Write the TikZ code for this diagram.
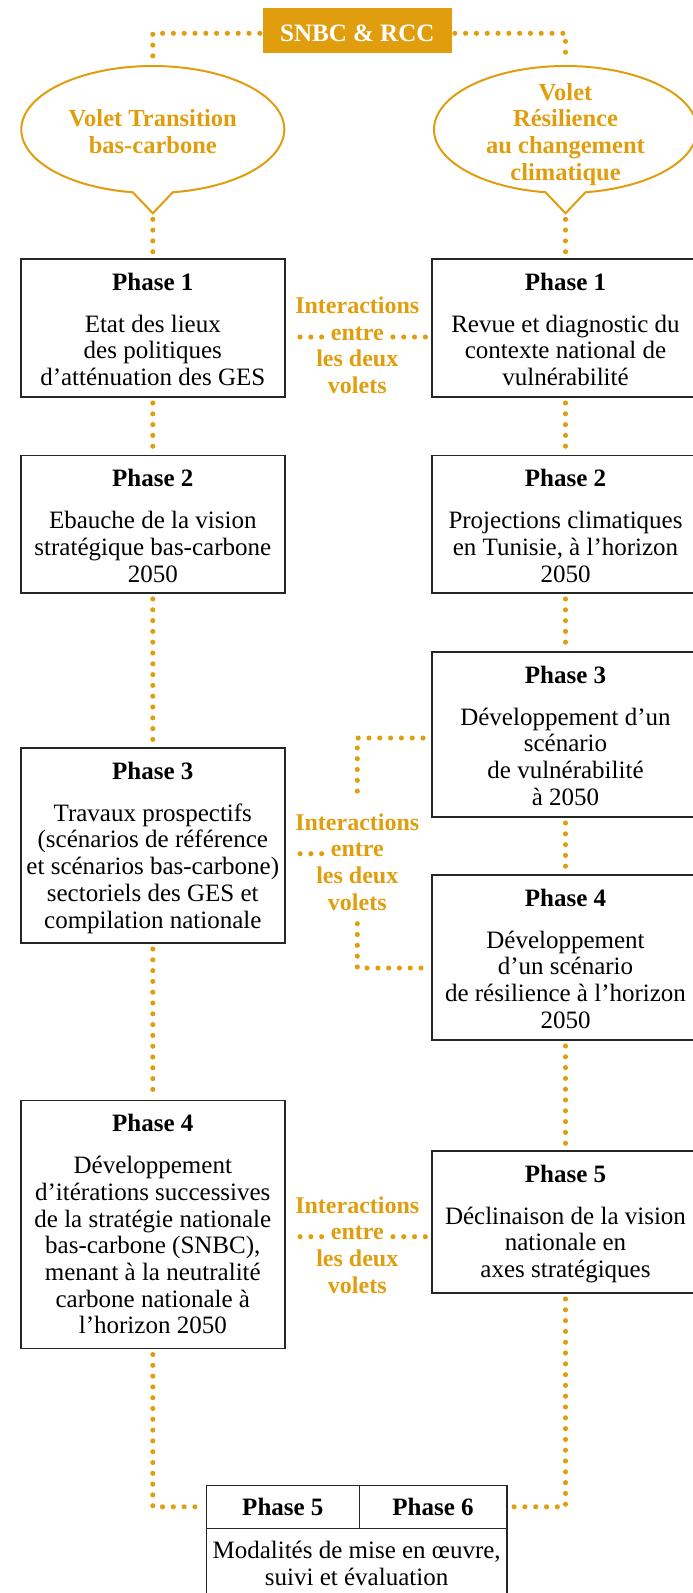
\documentclass[tikz,border=0pt]{standalone}
\usepackage{fontspec}
\setmainfont{Liberation Serif}
\definecolor{org}{RGB}{224,158,14}
\tikzset{
  dots/.style={draw=org, line width=5.1pt, line cap=round, dash pattern=on 0pt off 10.8pt, shorten <=6pt, shorten >=6pt},
  box/.style={draw=black!85, line width=1.5pt, inner sep=0pt, outer sep=0pt},
  boxtext/.style={inner sep=0pt, align=center, font=\fontsize{25}{26.7}\selectfont},
  inter/.style={inner sep=0pt, align=center, text=org, font=\fontsize{24}{26.7}\selectfont\bfseries},
  volet/.style={draw=org, line width=2pt, line join=miter},
  cell/.style={box, minimum height=43pt, font=\fontsize{25}{26.7}\selectfont\bfseries, text height=17pt, text depth=0pt},
}
% name, cx, cy, width, height, text
\newcommand\phbox[6]{%
  \node[box, minimum width=#4pt, minimum height=#5pt] (#1) at (#2,#3) {};
  \node[boxtext, anchor=north] (#1t) at ([yshift=-12.3pt]#1.north) {#6};
}
\begin{document}
\begin{tikzpicture}[x=1pt,y=-1pt]
\useasboundingbox (0,0) rectangle (693,1593);

% top box
\node[fill=org, text=white, font=\fontsize{25}{30}\selectfont\bfseries, minimum width=188.6pt, minimum height=45.3pt, inner sep=0pt, text height=20.6pt, text depth=0pt] (top) at (357.3,30.7) {SNBC \& RCC};

% speech-bubble ellipses
\draw[volet] (132.8,192.26) arc[start angle=98.75, end angle=441.25, x radius=131.5, y radius=63.5] -- (152.8,213.3) -- cycle;
\draw[volet] (545.5,192.26) arc[start angle=98.75, end angle=441.25, x radius=131.5, y radius=63.5] -- (565.5,213.3) -- cycle;
\coordinate (e1top) at (152.8,66);
\coordinate (e2top) at (565.5,66);
\coordinate (t1) at (152.8,213.3);
\coordinate (t2) at (565.5,213.3);
\node[inter, anchor=north, font=\fontsize{24.5}{26.7}\selectfont\bfseries] (v1) at (152.8,108) {\strut Volet Transition\\bas-carbone};
\node[inter, anchor=north, font=\fontsize{24.5}{26.7}\selectfont\bfseries] (v2) at (565.5,81.3) {\strut Volet\\Résilience\\au changement\\climatique};

% left column
\phbox{l1}{152.8}{328}{264}{138}{\strut\textbf{Phase 1}\\[15.3pt]Etat des lieux\\des politiques\\d’atténuation des GES}
\phbox{l2}{152.8}{524.25}{264}{137.5}{\strut\textbf{Phase 2}\\[15.3pt]Ebauche de la vision\\stratégique bas-carbone\\2050}
\phbox{l3}{152.8}{845.5}{264}{195}{\strut\textbf{Phase 3}\\[15.3pt]Travaux prospectifs\\(scénarios de référence\\et scénarios bas-carbone)\\sectoriels des GES et\\compilation nationale}
\phbox{l4}{152.8}{1224.5}{264}{248}{\strut\textbf{Phase 4}\\[15.3pt]Développement\\d’itérations successives\\de la stratégie nationale\\bas-carbone (SNBC),\\menant à la neutralité\\carbone nationale à\\l’horizon 2050}

% right column
\phbox{r1}{565.5}{328}{267}{138}{\strut\textbf{Phase 1}\\[15.3pt]Revue et diagnostic du\\contexte national de\\vulnérabilité}
\phbox{r2}{565.5}{524.25}{267}{137.5}{\strut\textbf{Phase 2}\\[15.3pt]Projections climatiques\\en Tunisie, à l’horizon\\2050}
\phbox{r3}{565.5}{734.5}{267}{165}{\strut\textbf{Phase 3}\\[15.3pt]Développement d’un\\scénario\\de vulnérabilité\\à 2050}
\phbox{r4}{565.5}{957.5}{267}{165}{\strut\textbf{Phase 4}\\[15.3pt]Développement\\d’un scénario\\de résilience à l’horizon\\2050}
\phbox{r5}{565.5}{1222}{267}{142}{\strut\textbf{Phase 5}\\[15.3pt]Déclinaison de la vision\\nationale en\\axes stratégiques}

% bottom box
\node[cell, minimum width=152.9pt] (b5) at (282.85,1506.8) {Phase 5};
\node[cell, minimum width=147.5pt] (b6) at (433.05,1506.8) {Phase 6};
\node[box, minimum width=300.4pt, minimum height=72pt] (bm) at (356.6,1564.3) {};
\node[boxtext, anchor=north] (bmt) at (356.6,1539.6) {\strut Modalités de mise en œuvre,\\suivi et évaluation};

% interactions 1
\node[inter, anchor=base] (i1a) at (357.3,313.3) {Interactions};
\node[inter, anchor=base, inner xsep=9pt] (i1b) at (357.3,340) {entre};
\node[inter, anchor=north] (i1c) at (357.3,348) {\strut les deux\\volets};
% interactions 2
\node[inter, anchor=base] (i2a) at (357.3,830) {Interactions};
\node[inter, anchor=base, inner xsep=9pt] (i2b) at (357.3,856.7) {entre};
\node[inter, anchor=north] (i2c) at (357.3,864.7) {\strut les deux\\volets};
% interactions 3
\node[inter, anchor=base] (i3a) at (357.3,1213) {Interactions};
\node[inter, anchor=base, inner xsep=9pt] (i3b) at (357.3,1239.7) {entre};
\node[inter, anchor=north] (i3c) at (357.3,1247.7) {\strut les deux\\volets};

% connectors: top
\draw[dots, shorten <=3pt] ([yshift=-2.6pt]top.west) -| (e1top);
\draw[dots, shorten <=3pt] ([yshift=-2.6pt]top.east) -| (e2top);
% left column
\draw[dots] (t1) -- (l1.north);
\draw[dots] (l1.south) -- (l2.north);
\draw[dots] (l2.south) -- (l3.north);
\draw[dots] (l3.south) -- (l4.north);
\draw[dots] (l4.south) |- (b5.west);
% right column
\draw[dots] (t2) -- (r1.north);
\draw[dots] (r1.south) -- (r2.north);
\draw[dots] (r2.south) -- (r3.north);
\draw[dots] (r3.south) -- (r4.north);
\draw[dots] (r4.south) -- (r5.north);
\draw[dots] (r5.south) |- (b6.east);
% interactions connectors
\coordinate (d1l) at ([yshift=3pt]i1b.base west);
\coordinate (d1r) at ([yshift=3pt]i1b.base east);
\draw[dots, shorten <=0pt] (d1l) -- (d1l -| l1.east);
\draw[dots, shorten <=0pt] (d1r) -- (d1r -| r1.west);
\coordinate (d2l) at ([yshift=3pt]i2b.base west);
\draw[dots, shorten <=0pt] (d2l) -- (d2l -| l3.east);
\draw[dots] ([xshift=-3pt,yshift=-3.5pt]r3.west) -| ([yshift=10pt]i2a.north);
\draw[dots] ([yshift=-7pt]i2c.south) |- ([xshift=-3pt,yshift=-10.5pt]r4.west);
\coordinate (d3l) at ([yshift=3pt]i3b.base west);
\coordinate (d3r) at ([yshift=3pt]i3b.base east);
\draw[dots, shorten <=0pt] (d3l) -- (d3l -| l4.east);
\draw[dots, shorten <=0pt] (d3r) -- (d3r -| r5.west);
\end{tikzpicture}
\end{document}
